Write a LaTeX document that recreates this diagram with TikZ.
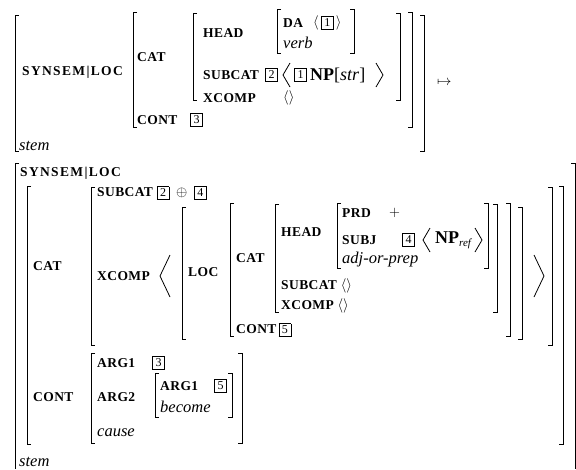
\documentclass[tikz,border=0pt]{standalone}
\usepackage{fontspec}
\setmainfont{Liberation Serif}
\newfontfamily\widefont[LetterSpace=10]{Liberation Serif}
\newfontfamily\attrfont[LetterSpace=3]{Liberation Serif}
\usetikzlibrary{positioning}

\tikzset{
  attr/.style={anchor=west, inner sep=0pt, font=\attrfont\bfseries\fontsize{13.5}{15}\selectfont},
  wideattr/.style={attr, font=\widefont\bfseries\fontsize{13.5}{15}\selectfont},
  val/.style={anchor=west, inner sep=0pt, font=\fontsize{16.5}{18}\selectfont\itshape},
  bigval/.style={anchor=west, inner sep=0pt, font=\fontsize{18}{20}\selectfont},
  brk/.style={line width=0.8pt},
}
% boxed tag
\newcommand{\tagbox}[1]{{\fboxsep=1.2pt\fboxrule=0.6pt\fbox{\normalfont\fontsize{12}{13}\selectfont\makebox[9pt]{\rule[-1.5pt]{0pt}{10pt}#1}}}}
% square brackets: left x, right x, top y, bottom y
\newcommand{\avmbrk}[4]{%
  \draw[brk] (#1+4,#3) -- (#1,#3) -- (#1,#4) -- (#1+4,#4);
  \draw[brk] (#2-4,#3) -- (#2,#3) -- (#2,#4) -- (#2-4,#4);}
% angle brackets: left x, right x, mid y, half height, width
\newcommand{\avmangle}[5]{%
  \draw[brk] (#1+#5,#3-#4) -- (#1,#3) -- (#1+#5,#3+#4);
  \draw[brk] (#2-#5,#3-#4) -- (#2,#3) -- (#2-#5,#3+#4);}

\begin{document}
\begin{tikzpicture}[x=1pt,y=-1pt]
\useasboundingbox (0,0) rectangle (576,469);

% input
\avmbrk{15}{424}{15}{151}
\avmbrk{133}{412}{12}{127}
\avmbrk{193}{400}{13}{100}
\avmbrk{277}{354}{9}{53}
\node[wideattr] (in-synsem) at (22,72) {SYNSEM|LOC};
\node[attr] (in-cat) at (137,57) {CAT};
\node[attr] (in-cont) at (137,120) {CONT};
\node[attr] (in-cont-v) at (190,120) {\tagbox{3}};
\node[attr] (in-head) at (203,33) {HEAD};
\node[attr] (in-da) at (283,23) {DA};
\node[attr] (in-da-v) at (313,23) {$\langle$\,\tagbox{1}\,$\rangle$};
\node[val] (in-verb) at (283,43) {verb};
\node[attr] (in-subcat) at (203,75) {SUBCAT};
\node[attr] (in-subcat-v) at (265,75) {\tagbox{2}};
\node[attr] (in-np-tag) at (294,75) {\tagbox{1}};
\node[bigval] (in-np) at (310,75) {\textbf{NP}[\textit{str}]};
\avmangle{283}{383}{75}{12}{7}
\node[attr] (in-xcomp) at (203,98) {XCOMP};
\node[attr] (in-xcomp-v) at (283,98) {$\langle\rangle$};
\node[val] (in-stem) at (19,146) {stem};
\node[attr] (mapsto) at (437,83) {$\mapsto$};

% output
\draw[brk] (19,163) -- (15,163) -- (15,469);
\draw[brk] (571,163) -- (575,163) -- (575,469);
\node[wideattr] (out-synsem) at (20,173) {SYNSEM|LOC};
\avmbrk{27}{563}{186}{444}
\node[attr] (out-cat) at (33,266) {CAT};
\node[attr] (out-cont) at (33,397) {CONT};
\avmbrk{91}{552}{187}{345}
\node[attr] (out-subcat) at (97,193) {SUBCAT \tagbox{2}\enspace$\oplus$\enspace\tagbox{4}};
\node[attr] (out-xcomp) at (97,276) {XCOMP};
\avmangle{160}{544}{276}{21}{10}
\avmbrk{182}{522}{207}{339}
\node[attr] (out-loc) at (188,272) {LOC};
\avmbrk{230}{510}{203}{336}
\node[attr] (out-loc-cat) at (236,258) {CAT};
\node[attr] (out-loc-cont) at (236,330) {CONT\,\tagbox{5}};
\avmbrk{275}{497}{204}{312}
\node[attr] (out-head) at (281,232) {HEAD};
\node[attr] (out-subcat2) at (281,286) {SUBCAT $\langle\rangle$};
\node[attr] (out-xcomp2) at (281,306) {XCOMP $\langle\rangle$};
\avmbrk{337}{488}{203}{268}
\node[attr] (out-prd) at (342,213) {PRD};
\node[attr] (out-prd-v) at (389,213) {$+$};
\node[attr] (out-subj) at (342,240) {SUBJ};
\node[attr] (out-subj-v) at (402,240) {\tagbox{4}};
\node[bigval] (out-np) at (435,240) {\textbf{NP}\raisebox{-3pt}{\fontsize{11}{12}\selectfont\itshape ref}};
\avmangle{423}{482}{240}{12}{7}
\node[val] (out-adj) at (342,260) {adj-or-prep};
\avmbrk{91}{242}{353}{443}
\node[attr] (out-arg1) at (97,363) {ARG1};
\node[attr] (out-arg1-v) at (152,363) {\tagbox{3}};
\node[attr] (out-arg2) at (97,397) {ARG2};
\node[val] (out-cause) at (97,433) {cause};
\avmbrk{155}{232}{373}{417}
\node[attr] (out-arg1b) at (160,386) {ARG1};
\node[attr] (out-arg1b-v) at (214,386) {\tagbox{5}};
\node[val] (out-become) at (160,407) {become};
\node[val] (out-stem) at (19,462) {stem};
\end{tikzpicture}
\end{document}
